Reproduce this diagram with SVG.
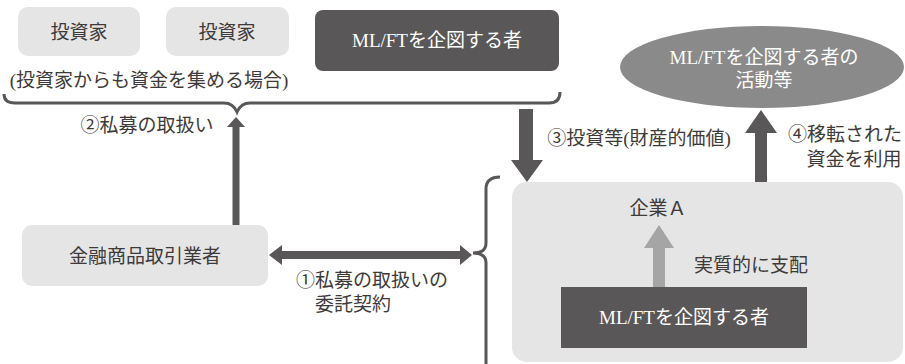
<svg xmlns="http://www.w3.org/2000/svg" width="905" height="364" viewBox="0 0 905 364">
<style>
.t{font-family:"Liberation Serif","Noto Sans CJK JP",serif;font-size:19px;fill:#3e3a39;text-anchor:middle}
.w{fill:#ffffff}
.light{fill:#e5e5e5}
.dark{fill:#595757}
.arr{fill:#595757}
.brace{fill:none;stroke:#595757;stroke-width:3}
</style>
<rect width="905" height="364" fill="#ffffff"/>
<g id="investor1"><rect class="light" x="18" y="7" width="122" height="49" rx="10"/><text class="t" x="79" y="39">投資家</text></g>
<g id="investor2"><rect class="light" x="166" y="7" width="123" height="49" rx="10"/><text class="t" x="227" y="39">投資家</text></g>
<g id="mlft-top"><rect class="dark" x="315" y="10" width="244" height="61" rx="8"/><text class="t w" x="437" y="47">ML/FTを企図する者</text></g>
<g id="note"><text class="t" x="149" y="87">(投資家からも資金を集める場合)</text></g>
<g id="activity"><ellipse cx="762" cy="67" rx="142" ry="41" fill="#8a8a8a"/><text class="t w" x="764" y="64">ML/FTを企図する者の</text><text class="t w" x="764" y="87">活動等</text></g>
<g id="dealer"><rect class="light" x="22" y="225" width="246" height="61" rx="10"/><text class="t" x="145" y="263">金融商品取引業者</text></g>
<g id="companyA"><rect class="light" x="512" y="182" width="391" height="180" rx="15"/><text class="t" x="658" y="215">企業Ａ</text></g>
<g id="mlft-inner"><rect class="dark" x="561" y="287" width="246" height="61"/><text class="t w" x="684" y="324">ML/FTを企図する者</text></g>
<g id="connectors">
<path class="brace" d="M4,94 Q4,103 15,103 L224,103 Q233,103 237,112 Q241,103 250,103 L549,103 Q560,103 560,92"/>
<path class="brace" d="M500,177 Q486,177 486,189 L486,243 Q486,253 473,253 Q486,253 486,263 L486,364"/>
<polygon class="arr" points="232.5,225 232.5,127 227,127 236,117 245,127 239.5,127 239.5,225"/>
<polygon class="arr" points="519,109 533,109 533,160 543,160 527,182 511,160 519,160"/>
<polygon class="arr" points="755,182 755,133 745,133 761,110 777,133 767,133 767,182"/>
<polygon class="arr" points="269,255 282,245 282,251 460,251 460,245 472,255 460,265 460,259 282,259 282,265"/>
<polygon fill="#a5a5a5" points="653,287 653,248 644,248 659,225 674,248 665,248 665,287"/>
<text class="t" x="147" y="132">②私募の取扱い</text>
<text class="t" x="372" y="287">①私募の取扱いの</text>
<text class="t" x="353" y="311">委託契約</text>
<text class="t" x="639" y="145">③投資等(財産的価値)</text>
<text class="t" x="845" y="141">④移転された</text>
<text class="t" x="854" y="166">資金を利用</text>
<text class="t" x="751" y="272">実質的に支配</text>
</g>
</svg>
